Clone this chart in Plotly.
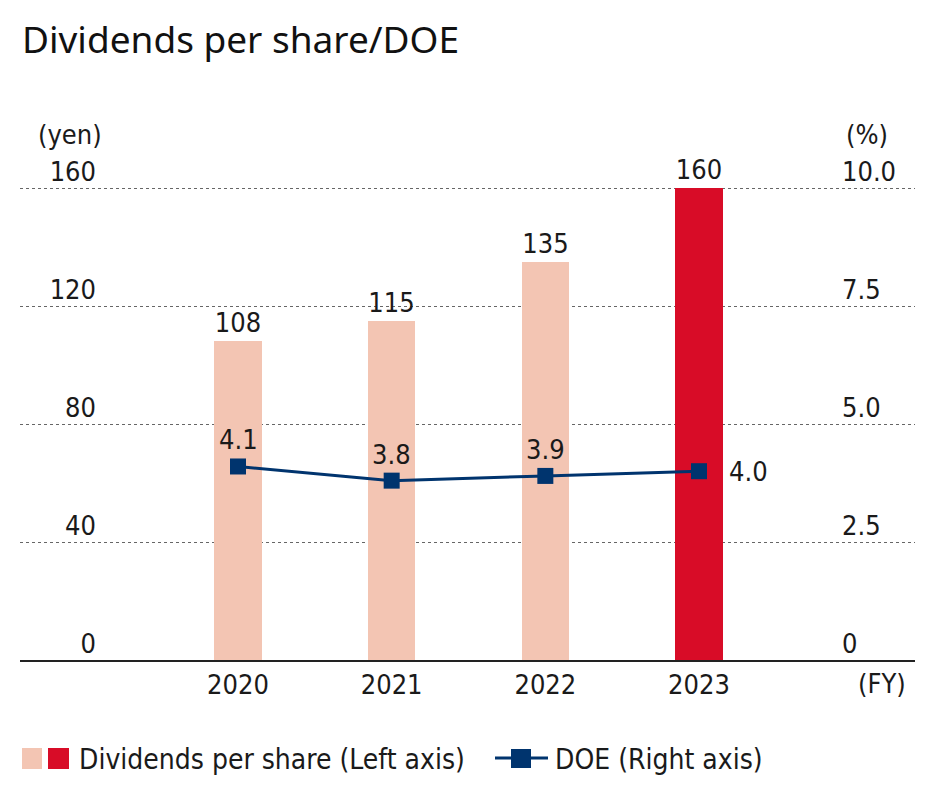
import plotly.graph_objects as go

years = ["2020", "2021", "2022", "2023"]
dividends = [108, 115, 135, 160]
doe = [4.1, 3.8, 3.9, 4.0]
bar_colors = ["#F3C5B3", "#F3C5B3", "#F3C5B3", "#D80C27"]
left_ticks = [0, 40, 80, 120, 160]
right_ticks = [0, 2.5, 5.0, 7.5, 10.0]
right_ticktext = ["0", "2.5", "5.0", "7.5", "10.0"]

NAVY = "#00346E"
TXT = "#1a1a1a"
FONT = "Liberation Sans Narrow, DejaVu Sans Condensed, Noto Sans, sans-serif"
TFONT = "Noto Sans, sans-serif"

W, H = 938, 795
L, R, T, B = 20, 23, 185, 135
pw, ph = W - L - R, H - T - B
# 160 yen must sit at pixel 188 while the plot area starts at 185
ymax = 160 * ph / (H - B - 188)
y2max = 10 * ph / (H - B - 188)

def px(x):
    return (x - L) / pw

def py(y):
    return (H - B - y) / ph

xi = list(range(len(years)))

fig = go.Figure()
fig.add_trace(go.Bar(
    x=xi, y=dividends, marker=dict(color=bar_colors, line=dict(width=0)),
    width=0.31, text=[str(v) for v in dividends], textposition="outside",
    textfont=dict(size=27, color=TXT, family=FONT), cliponaxis=False,
    showlegend=False, hoverinfo="skip"))
fig.add_trace(go.Scatter(
    x=xi, y=doe, yaxis="y2", mode="lines+markers",
    line=dict(color=NAVY, width=3), marker=dict(symbol="square", size=16, color=NAVY),
    showlegend=False, cliponaxis=False, hoverinfo="skip"))

# DOE labels
for i, v in enumerate(doe):
    if i == len(doe) - 1:
        fig.add_annotation(x=xi[i], y=v, xref="x", yref="y2", text=f"{v:.1f}",
                           showarrow=False, xanchor="left", yanchor="middle", xshift=28,
                           font=dict(size=27, color=TXT, family=FONT))
    else:
        fig.add_annotation(x=xi[i], y=v, xref="x", yref="y2", text=f"{v:.1f}",
                           showarrow=False, xanchor="center", yanchor="bottom", yshift=9,
                           font=dict(size=27, color=TXT, family=FONT))

fig.update_layout(
    width=W, height=H, margin=dict(l=L, r=R, t=T, b=B),
    paper_bgcolor="white", plot_bgcolor="white",
    font=dict(family=FONT, color=TXT, size=27),
    xaxis=dict(range=[-1.4187, 4.4056], tickvals=xi, ticktext=years, showgrid=False,
               zeroline=False, showline=True, linecolor="#222", linewidth=2,
               ticks="", tickfont=dict(size=27, color=TXT, family=FONT), fixedrange=True),
    yaxis=dict(range=[0, ymax], tickvals=left_ticks, showgrid=True, gridcolor="#666",
               griddash="dot", gridwidth=1, zeroline=False, showline=False, ticks="",
               anchor="free", position=px(96), side="left", ticklabelshift=-16,
               tickfont=dict(size=27, color=TXT, family=FONT)),
    yaxis2=dict(range=[0, y2max], tickvals=right_ticks, ticktext=right_ticktext, overlaying="y",
                side="right", anchor="free", position=px(841), showgrid=False, zeroline=False,
                showline=False, ticks="", ticklabelshift=-16,
                tickfont=dict(size=27, color=TXT, family=FONT)),
    bargap=0,
)

# Title and unit labels
fig.add_annotation(x=px(20), y=py(38), xref="paper", yref="paper", text="Dividends per share/DOE",
                   showarrow=False, xanchor="left", yanchor="middle",
                   font=dict(size=37, color="#111", family=TFONT))
fig.add_annotation(x=px(104), y=py(135), xref="paper", yref="paper", text="(yen)",
                   showarrow=False, xanchor="right", yanchor="middle",
                   font=dict(size=27, color=TXT, family=FONT))
fig.add_annotation(x=px(890), y=py(135), xref="paper", yref="paper", text="(%)",
                   showarrow=False, xanchor="right", yanchor="middle",
                   font=dict(size=27, color=TXT, family=FONT))
fig.add_annotation(x=px(908), y=py(683), xref="paper", yref="paper", text="(FY)",
                   showarrow=False, xanchor="right", yanchor="middle",
                   font=dict(size=27, color=TXT, family=FONT))

# Manual legend
fig.add_shape(type="rect", xref="paper", yref="paper", x0=px(22), x1=px(42), y0=py(769), y1=py(748),
              fillcolor="#F3C5B3", line=dict(width=0))
fig.add_shape(type="rect", xref="paper", yref="paper", x0=px(48), x1=px(69), y0=py(769), y1=py(748),
              fillcolor="#D80C27", line=dict(width=0))
fig.add_annotation(x=px(77), y=py(759), xref="paper", yref="paper",
                   text="Dividends per share (Left axis)", showarrow=False,
                   xanchor="left", yanchor="middle", font=dict(size=28, color=TXT, family=FONT))
fig.add_shape(type="line", xref="paper", yref="paper", x0=px(495), x1=px(548), y0=py(758), y1=py(758),
              line=dict(color=NAVY, width=3))
fig.add_shape(type="rect", xref="paper", yref="paper", x0=px(511), x1=px(531), y0=py(768), y1=py(749),
              fillcolor=NAVY, line=dict(width=0))
fig.add_annotation(x=px(553), y=py(759), xref="paper", yref="paper",
                   text="DOE (Right axis)", showarrow=False,
                   xanchor="left", yanchor="middle", font=dict(size=28, color=TXT, family=FONT))

fig.write_html("out.html", config={"displayModeBar": False},
               post_script="document.body.style.margin='0';")
